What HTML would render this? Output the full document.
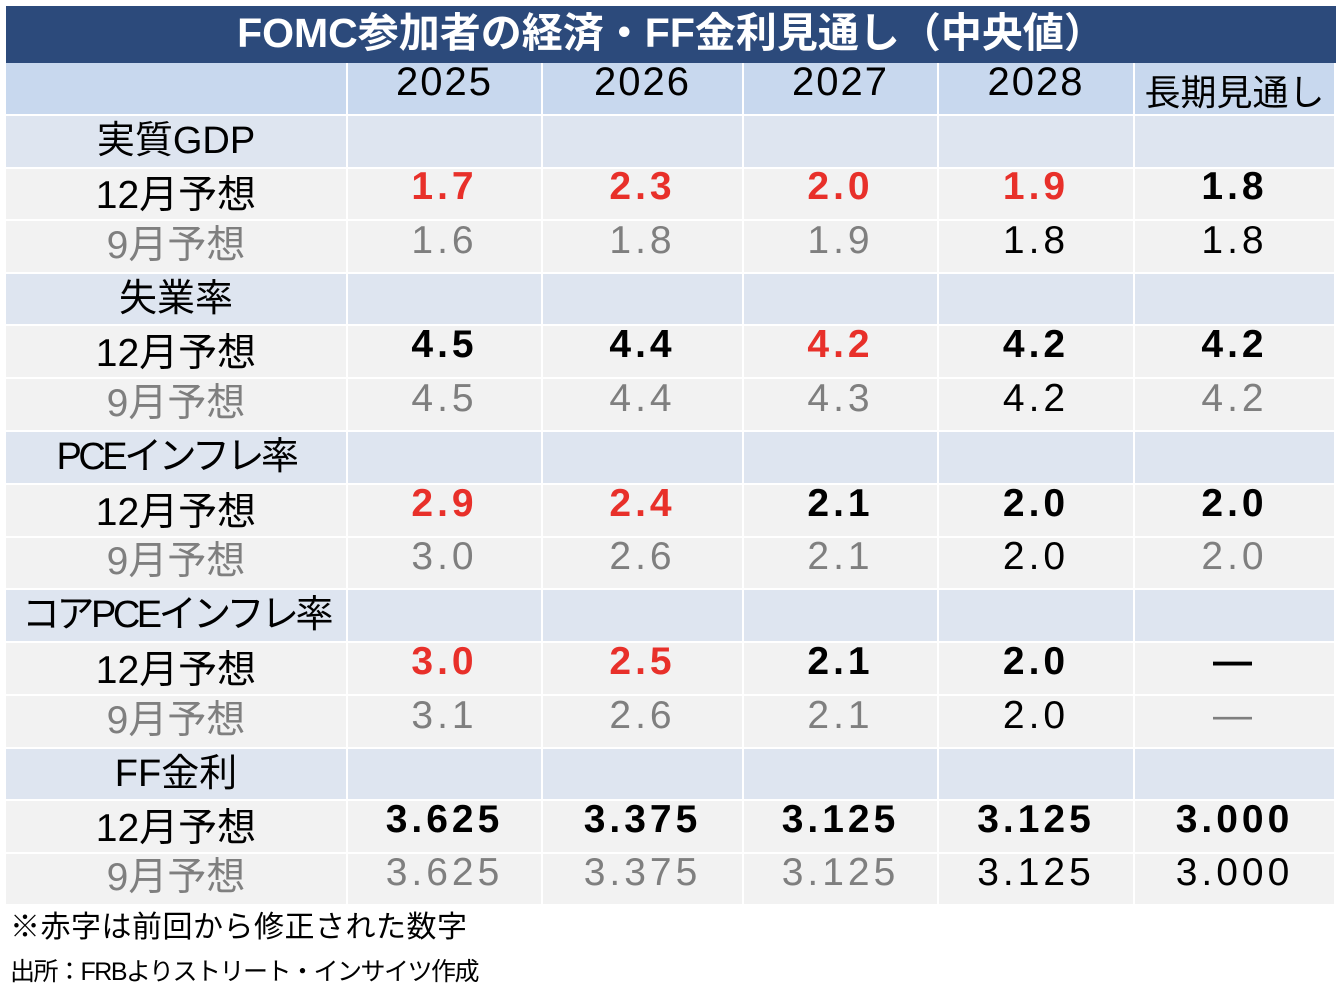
<!DOCTYPE html>
<html><head><meta charset="utf-8"><style>
body{margin:0;width:1342px;height:998px;background:#fff;position:relative;overflow:hidden;font-family:"Liberation Sans","Noto Sans CJK JP",sans-serif}
.t{position:absolute;left:6px;top:6px;width:1330px;height:57px;background:#2C4A7B;color:#fff;font-weight:bold;font-size:41px;text-align:center;line-height:54px;letter-spacing:0px}
.c{position:absolute;display:flex;align-items:center;justify-content:center;box-sizing:border-box;border-right:2px solid #fff;border-bottom:2px solid #fff}
.h{background:#C8D8EE;font-size:40px;letter-spacing:2px}
.s{background:#DEE5F0;font-size:38px}
.d{background:#F2F2F2;font-size:39px}
.n{letter-spacing:4px;font-size:39px}
.b{font-weight:bold}
.r{color:#E8302A}
.g{color:#7F7F7F}
.k{color:#000}
.f{position:absolute;left:10px;font-size:30px;letter-spacing:0.5px}
</style></head><body>
<div class="t">FOMC参加者の経済・FF金利見通し（中央値）</div>
<div id="g"></div>
<div class="f" style="top:902px">※赤字は前回から修正された数字</div>
<div class="f" style="top:952px;font-size:25px;letter-spacing:-1.5px">出所：FRBよりストリート・インサイツ作成</div>
<script>
var xs=[6,348,543,744,939,1135,1336];
var ys=[63,116,169,221,274,326,379,432,485,538,590,643,696,749,801,854,906];
var rows=[
 ["h","",["2025"],["2026"],["2027"],["2028"],["長期見通し"]],
 ["s","実質GDP"],
 ["d","12月予想","r1.7","r2.3","r2.0","r1.9","k1.8",1],
 ["d","9月予想","g1.6","g1.8","g1.9","k1.8","k1.8",0],
 ["s","失業率"],
 ["d","12月予想","k4.5","k4.4","r4.2","k4.2","k4.2",1],
 ["d","9月予想","g4.5","g4.4","g4.3","k4.2","g4.2",0],
 ["s","PCEインフレ率"],
 ["d","12月予想","r2.9","r2.4","k2.1","k2.0","k2.0",1],
 ["d","9月予想","g3.0","g2.6","g2.1","k2.0","g2.0",0],
 ["s","コアPCEインフレ率"],
 ["d","12月予想","r3.0","r2.5","k2.1","k2.0","k—",1],
 ["d","9月予想","g3.1","g2.6","g2.1","k2.0","g—",0],
 ["s","FF金利"],
 ["d","12月予想","k3.625","k3.375","k3.125","k3.125","k3.000",1],
 ["d","9月予想","g3.625","g3.375","g3.125","k3.125","k3.000",0]
];
var h="";
rows.forEach(function(r,i){
 var cls=r[0];
 for(var j=0;j<6;j++){
  var txt="",st="";
  if(j==0){txt=r[1];
   if(cls=="d"){ if(r[7]==0)st+="color:#7F7F7F;padding-bottom:10px;"; else st+="padding-bottom:4px;"; }
   if(cls=="s"){st+="padding-bottom:10px;";
     if(txt.indexOf("PCE")>=0)st+="letter-spacing:-3.5px;";}
  }
  else if(cls=="h"){txt=r[j+1][0];st="padding-bottom:12px;";if(j==5)st="letter-spacing:0;font-size:36px;padding-top:2px;";}
  else if(cls=="d"){var v=r[j+1];txt=v.slice(1);}
  var c="c "+cls;
  if(cls=="d"&&j>0){var v=r[j+1];c+=" n "+v[0]+(r[7]?" b":"");st+="padding-bottom:"+(r[7]?14:12)+"px;";}
  h+='<div class="'+c+'" style="left:'+xs[j]+'px;top:'+ys[i]+'px;width:'+(xs[j+1]-xs[j])+'px;height:'+(ys[i+1]-ys[i])+'px;'+st+'">'+txt+'</div>';
 }
});
document.getElementById("g").innerHTML=h;
</script>
</body></html>
